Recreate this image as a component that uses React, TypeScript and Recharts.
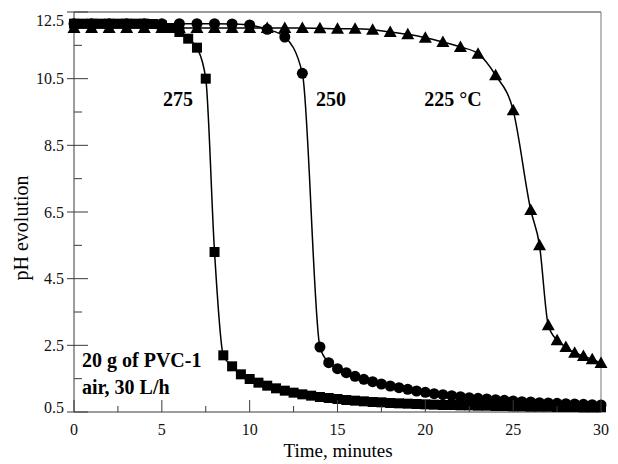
import React from "react";
import { ComposedChart, Line, XAxis, YAxis } from "recharts";

const xTicks = [0, 2.5, 5, 7.5, 10, 12.5, 15, 17.5, 20, 22.5, 25, 27.5, 30];
const xMajor = [0, 5, 10, 15, 20, 25, 30];
const yTicks = [0.5, 1.5, 2.5, 3.5, 4.5, 5.5, 6.5, 7.5, 8.5, 9.5, 10.5, 11.5, 12.5];
const yMajor = [0.5, 2.5, 4.5, 6.5, 8.5, 10.5, 12.5];

// 275 °C, squares
const t275 = [
  0, 0.5, 1, 1.5, 2, 2.5, 3, 3.5, 4, 4.5, 5, 5.5, 6, 6.5, 7, 7.5, 8, 8.5, 9, 9.5,
  10, 10.5, 11, 11.5, 12, 12.5, 13, 13.5, 14, 14.5, 15, 15.5, 16, 16.5, 17, 17.5,
  18, 18.5, 19, 19.5, 20, 20.5, 21, 21.5, 22, 22.5, 23, 23.5, 24, 24.5, 25, 25.5,
  26, 26.5, 27, 27.5, 28, 28.5, 29, 29.5, 30,
];
const ph275 = [
  12.15, 12.15, 12.15, 12.15, 12.15, 12.15, 12.15, 12.15, 12.15, 12.14, 12.1, 12.02,
  11.9, 11.7, 11.43, 10.5, 5.3, 2.2, 1.87, 1.63, 1.49, 1.38, 1.29, 1.21, 1.14, 1.08,
  1.03, 0.99, 0.95, 0.92, 0.89, 0.86, 0.84, 0.82, 0.8, 0.79, 0.77, 0.76, 0.75, 0.74,
  0.73, 0.72, 0.71, 0.71, 0.7, 0.7, 0.69, 0.69, 0.68, 0.68, 0.67, 0.67, 0.66, 0.66,
  0.66, 0.65, 0.65, 0.65, 0.64, 0.64, 0.64,
];

// 250 °C, circles
const t250 = [
  0, 1, 2, 3, 4, 5, 6, 7, 8, 9, 10, 11, 12, 13, 14, 14.5, 15, 15.5, 16, 16.5, 17,
  17.5, 18, 18.5, 19, 19.5, 20, 20.5, 21, 21.5, 22, 22.5, 23, 23.5, 24, 24.5, 25,
  25.5, 26, 26.5, 27, 27.5, 28, 28.5, 29, 29.5, 30,
];
const ph250 = [
  12.15, 12.15, 12.15, 12.15, 12.15, 12.15, 12.15, 12.15, 12.15, 12.14, 12.11, 11.98,
  11.75, 10.66, 2.45, 1.98, 1.8, 1.68, 1.57, 1.48, 1.41, 1.34, 1.28, 1.23, 1.18, 1.13,
  1.09, 1.05, 1.02, 0.99, 0.96, 0.93, 0.91, 0.89, 0.87, 0.85, 0.83, 0.81, 0.8, 0.78,
  0.77, 0.76, 0.75, 0.74, 0.73, 0.72, 0.71,
];

// 225 °C, triangles
const t225 = [
  0, 1, 2, 3, 4, 5, 6, 7, 8, 9, 10, 11, 12, 13, 14, 15, 16, 17, 18, 19, 20, 21, 22,
  23, 24, 25, 26, 26.5, 27, 27.5, 28, 28.5, 29, 29.5, 30,
];
const ph225 = [
  12.02, 12.02, 12.02, 12.02, 12.02, 12.02, 12.02, 12.02, 12.02, 12.02, 12.02, 12.02,
  12.02, 12.02, 12.01, 12.0, 12.0, 11.97, 11.9, 11.83, 11.73, 11.6, 11.45, 11.25,
  10.6, 9.55, 6.56, 5.5, 3.1, 2.65, 2.45, 2.28, 2.18, 2.08, 1.97,
];

const zip = (t: number[], p: number[]) => t.map((v, i) => ({ t: v, ph: p[i] }));
const data275 = zip(t275, ph275);
const data250 = zip(t250, ph250);
const data225 = zip(t225, ph225);

const FONT = "'Liberation Serif', 'Times New Roman', serif";
const AXIS = "#3a3a3a";

function SquareDot(props: any) {
  const { cx, cy, index } = props;
  if (cx == null || cy == null) return <g key={`s${index}`} />;
  return <rect key={`s${index}`} x={cx - 5} y={cy - 5} width={10} height={10} fill="#000" />;
}

function CircleDot(props: any) {
  const { cx, cy, index } = props;
  if (cx == null || cy == null) return <g key={`c${index}`} />;
  return <circle key={`c${index}`} cx={cx} cy={cy} r={5.5} fill="#000" />;
}

function TriangleDot(props: any) {
  const { cx, cy, index } = props;
  if (cx == null || cy == null) return <g key={`t${index}`} />;
  return (
    <polygon
      key={`t${index}`}
      points={`${cx},${cy - 6.5} ${cx - 6.5},${cy + 5} ${cx + 6.5},${cy + 5}`}
      fill="#000"
    />
  );
}

function LeftTick(props: any) {
  const { x, y, payload } = props;
  const major = yMajor.includes(payload.value);
  let dy = 0;
  if (payload.value === 12.5) dy = 8;
  if (payload.value === 0.5) dy = -5;
  return (
    <g>
      <line x1={major ? x - 7 : x} x2={x + (major ? 14 : 8)} y1={y} y2={y} stroke={AXIS} />
      {major && (
        <text x={x - 10} y={y + dy} dy="0.35em" textAnchor="end" fontSize={16} fontFamily={FONT} fill="#111">
          {payload.value.toFixed(1)}
        </text>
      )}
    </g>
  );
}

function RightTick(props: any) {
  const { x, y, payload } = props;
  const major = yMajor.includes(payload.value);
  return <line x1={x} x2={x - (major ? 15 : 8)} y1={y} y2={y} stroke={AXIS} />;
}

function BottomTick(props: any) {
  const { x, y, payload } = props;
  const major = xMajor.includes(payload.value);
  return (
    <g>
      <line x1={x} x2={x} y1={y} y2={y - (major ? 12 : 6)} stroke={AXIS} />
      {major && (
        <text x={x} y={y + 23} textAnchor="middle" fontSize={16} fontFamily={FONT} fill="#111">
          {payload.value}
        </text>
      )}
    </g>
  );
}

function TopTick(props: any) {
  const { x, y, payload } = props;
  const major = xMajor.includes(payload.value);
  return <line x1={x} x2={x} y1={y} y2={y + (major ? 12 : 5)} stroke={AXIS} />;
}

export default function App() {
  return (
    <div style={{ position: "absolute", left: 0, top: 0, width: 618, height: 464, background: "#fff" }}>
      <ComposedChart width={618} height={464} margin={{ top: 0, right: 0, bottom: 0, left: 0 }}>
        <XAxis
          dataKey="t"
          type="number"
          domain={[0, 30]}
          ticks={xTicks}
          interval={0}
          height={52}
          tickSize={0}
          tickMargin={0}
          tickLine={false}
          axisLine={{ stroke: AXIS }}
          tick={<BottomTick />}
        />
        <XAxis
          xAxisId="top"
          orientation="top"
          dataKey="t"
          type="number"
          domain={[0, 30]}
          ticks={xTicks}
          interval={0}
          height={12}
          tickSize={0}
          tickMargin={0}
          tickLine={false}
          axisLine={{ stroke: AXIS }}
          tick={<TopTick />}
        />
        <YAxis
          type="number"
          domain={[0.5, 12.5]}
          ticks={yTicks}
          interval={0}
          width={74}
          tickSize={0}
          tickMargin={0}
          tickLine={false}
          axisLine={{ stroke: AXIS }}
          tick={<LeftTick />}
        />
        <YAxis
          yAxisId="right"
          orientation="right"
          type="number"
          domain={[0.5, 12.5]}
          ticks={yTicks}
          interval={0}
          width={17}
          tickSize={0}
          tickMargin={0}
          tickLine={false}
          axisLine={{ stroke: "#777" }}
          tick={<RightTick />}
        />
        <Line
          data={data225}
          dataKey="ph"
          type="monotone"
          stroke="#000"
          strokeWidth={1.5}
          dot={(p: any) => <TriangleDot {...p} />}
          activeDot={false}
          isAnimationActive={false}
        />
        <Line
          data={data250}
          dataKey="ph"
          type="monotone"
          stroke="#000"
          strokeWidth={1.5}
          dot={(p: any) => <CircleDot {...p} />}
          activeDot={false}
          isAnimationActive={false}
        />
        <Line
          data={data275}
          dataKey="ph"
          type="monotone"
          stroke="#000"
          strokeWidth={1.5}
          dot={(p: any) => <SquareDot {...p} />}
          activeDot={false}
          isAnimationActive={false}
        />
      </ComposedChart>
      <svg
        width={618}
        height={464}
        style={{ position: "absolute", left: 0, top: 0, pointerEvents: "none" }}
        fontFamily={FONT}
      >
        <text x={178} y={106} textAnchor="middle" fontSize={20} fontWeight="bold" fill="#000">275</text>
        <text x={331} y={106} textAnchor="middle" fontSize={20} fontWeight="bold" fill="#000">250</text>
        <text x={453} y={106} textAnchor="middle" fontSize={20} fontWeight="bold" fill="#000">225 °C</text>
        <text x={82} y={367} fontSize={20} fontWeight="bold" fill="#000">20 g of PVC-1</text>
        <text x={82} y={394} fontSize={20} fontWeight="bold" fill="#000">air, 30 L/h</text>
        <text x={338} y={457} textAnchor="middle" fontSize={19} fill="#000">
          Time, minutes
        </text>
        <text
          x={0}
          y={0}
          transform="translate(28,228) rotate(-90)"
          textAnchor="middle"
          fontSize={20}
          fill="#000"
        >
          pH evolution
        </text>
      </svg>
    </div>
  );
}
